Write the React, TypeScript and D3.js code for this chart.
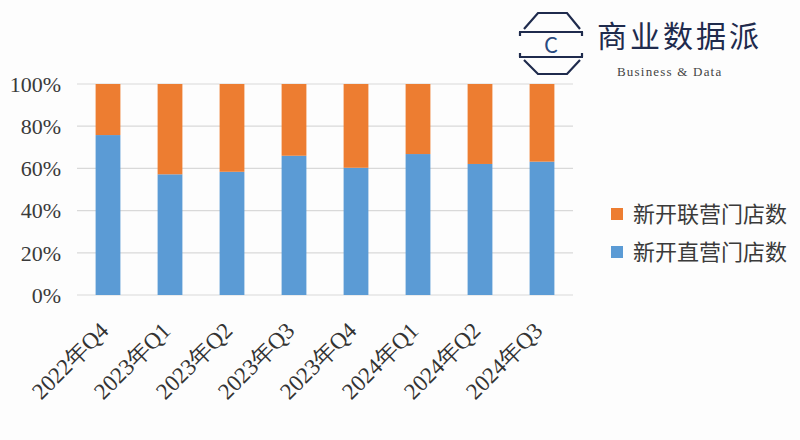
import React from "react";
import * as d3 from "d3";

const categories = ["2022年Q4", "2023年Q1", "2023年Q2", "2023年Q3", "2023年Q4", "2024年Q1", "2024年Q2", "2024年Q3"];
const directShare = [0.758, 0.572, 0.584, 0.66, 0.603, 0.668, 0.621, 0.632];
const franchiseShare = directShare.map((v) => 1 - v);
const yTicks = [0, 0.2, 0.4, 0.6, 0.8, 1.0];
const seriesNames = ["新开联营门店数", "新开直营门店数"];

const W = 800;
const H = 440;
const BLUE = "#5b9bd5";
const ORANGE = "#ed7d31";

export default function App() {
  const x = d3.scaleBand<string>().domain(categories).range([77, 573]).paddingInner(0.6).paddingOuter(0.3);
  const y = d3.scaleLinear().domain([0, 1]).range([295, 84]);
  const rows = categories.map((c, i) => ({ c, direct: directShare[i], fr: franchiseShare[i] }));
  const stack = d3.stack<any>().keys(["direct", "fr"])(rows as any);
  const colors = [BLUE, ORANGE];
  const serif = "'Liberation Serif', 'Times New Roman', serif";
  const sans = "'Noto Sans CJK SC', 'Noto Sans', sans-serif";
  const navy = "#1f2b4d";

  return (
    <svg width={W} height={H} style={{ position: "absolute", left: 0, top: 0, background: "#fdfdfd" }}>
      <rect x={0} y={0} width={W} height={H} fill="#fdfdfd" />
      {/* grid */}
      {yTicks.map((t) => (
        <line key={t} x1={77} x2={573} y1={y(t)} y2={y(t)} stroke="#d9d9d9" strokeWidth={1.2} />
      ))}
      {/* y labels */}
      {yTicks.map((t) => (
        <text key={"l" + t} x={61} y={y(t)} dy="0.35em" textAnchor="end" fontFamily={serif} fontSize={22} fill="#3a3a3a">
          {d3.format(".0%")(t)}
        </text>
      ))}
      {/* bars */}
      {stack.map((s, si) =>
        s.map((d: any, i: number) => (
          <rect
            key={si + "-" + i}
            x={x(categories[i])}
            width={x.bandwidth()}
            y={y(d[1])}
            height={y(d[0]) - y(d[1])}
            fill={colors[si]}
          />
        ))
      )}
      {/* x labels */}
      {categories.map((c) => {
        const cx = (x(c) as number) + x.bandwidth() / 2 + 2;
        const cy = 332;
        return (
          <text key={c} x={cx} y={cy} textAnchor="end" transform={`rotate(-45 ${cx} ${cy})`} fontFamily={serif} fontSize={23} fill="#333">
            {c}
          </text>
        );
      })}
      {/* legend */}
      {seriesNames.map((n, i) => (
        <g key={n} transform={`translate(611, ${214 + i * 38})`}>
          <rect x={0} y={-6} width={12} height={12} fill={i === 0 ? ORANGE : BLUE} />
          <text x={22} y={0} dy="0.36em" fontFamily={sans} fontSize={22} fill="#3a3a3a">
            {n}
          </text>
        </g>
      ))}
      {/* logo */}
      <g stroke={navy} fill="none" strokeWidth={2.2}>
        <polyline points="524,29 538,13 567,13 580,29" />
        <line x1={519} y1={32} x2={583} y2={32} />
        <line x1={520} y1={32} x2={520} y2={36} />
        <line x1={582} y1={32} x2={582} y2={36} />
        <line x1={519} y1={57} x2={583} y2={57} />
        <line x1={520} y1={57} x2={520} y2={53} />
        <line x1={582} y1={57} x2={582} y2={53} />
        <polyline points="524,60 538,74 567,74 580,60" />
      </g>
      <text x={551} y={45} dy="0.36em" textAnchor="middle" fontFamily={sans} fontSize={22} fill="#2a4a80">
        C
      </text>
      <text x={597} y={36} dy="0.36em" fontFamily="'Noto Sans CJK SC', serif" fontSize={30} fill={navy} letterSpacing={3}>
        商业数据派
      </text>
      <text x={617} y={76} fontFamily={serif} fontSize={13} fill="#444" letterSpacing={1.2}>
        Business &amp; Data
      </text>
    </svg>
  );
}
